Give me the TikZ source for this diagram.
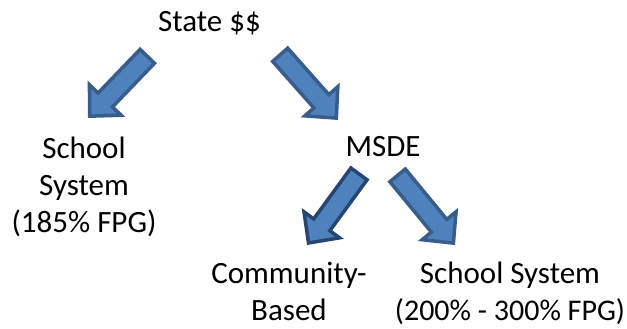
\documentclass[tikz,border=0pt]{standalone}
\usepackage{fontspec}
\setmainfont{Carlito}
\usetikzlibrary{calc}

\definecolor{arrowfill}{HTML}{4F81BD}
\definecolor{arrowline}{HTML}{385D8A}
\definecolor{arrowdark}{HTML}{264570}

\tikzset{
  labeltext/.style={font=\fontsize{31}{37}\selectfont, align=center, anchor=base, inner sep=0pt},
  blockarrow/.style={fill=arrowfill, draw=arrowline, line width=3.5pt, line join=miter},
}

% Block arrow from tail coordinate #2 to tip coordinate #3
\newcommand\blockarrowpath[3][]{%
  \draw[blockarrow,#1] let \p1=($(#3)-(#2)$), \n1={atan2(\y1,\x1)} in
    ($(#2)+(\n1+90:10pt)$)
    -- ($(#3)+(\n1+180:22.5pt)+(\n1+90:10pt)$)
    -- ($(#3)+(\n1+180:22.5pt)+(\n1+90:22pt)$)
    -- (#3)
    -- ($(#3)+(\n1+180:22.5pt)+(\n1-90:22pt)$)
    -- ($(#3)+(\n1+180:22.5pt)+(\n1-90:10pt)$)
    -- ($(#2)+(\n1-90:10pt)$)
    -- cycle;}

\begin{document}
\begin{tikzpicture}[x=1pt,y=-1pt]
  \useasboundingbox (0,0) rectangle (627,329);

  % funding labels (base anchor sits on the last line)
  \node[labeltext] (state) at (209.5,32) {State \$\$};
  \node[labeltext] (school) at (84,232) {School\\System\\(185\% FPG)};
  \node[labeltext] (msde) at (383,157) {MSDE};
  \node[labeltext] (community) at (289,320) {Community-\\Based};
  \node[labeltext] (school2) at (510,320) {School System\\{\fontsize{30}{37}\selectfont(200\% - 300\% FPG)}};

  % arrow ends
  \coordinate (tA) at (147.3,56.3);  \coordinate (hA) at (89.7,116.2);
  \coordinate (tB) at (280.2,54.8);  \coordinate (hB) at (336.3,118.1);
  \coordinate (tC) at (359,173.9);   \coordinate (hC) at (308.5,243);
  \coordinate (tD) at (397.6,175.4); \coordinate (hD) at (453.4,243.1);

  \blockarrowpath{tA}{hA}
  \blockarrowpath{tB}{hB}
  \blockarrowpath[draw=arrowdark]{tC}{hC}
  \blockarrowpath{tD}{hD}
\end{tikzpicture}
\end{document}
